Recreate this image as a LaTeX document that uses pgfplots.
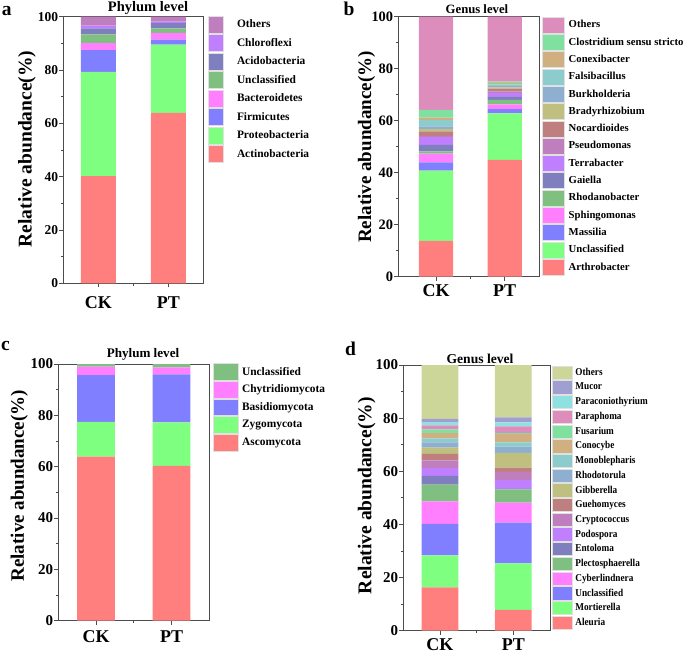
\documentclass[border=0pt]{standalone}
\usepackage{fontspec}
\setmainfont{Liberation Serif}
\newfontfamily\condfont[FakeStretch=0.88]{Liberation Serif}
\usepackage{pgfplots}
\pgfplotsset{compat=1.18}
\definecolor{cRed}{HTML}{FF7F7F}
\definecolor{cGreen}{HTML}{7FFF7F}
\definecolor{cBlue}{HTML}{7F7FFF}
\definecolor{cMag}{HTML}{FF7FFF}
\definecolor{cDGreen}{HTML}{7FBF7F}
\definecolor{cSlate}{HTML}{7F7FBF}
\definecolor{cViolet}{HTML}{BF7FFF}
\definecolor{cMauve}{HTML}{BF7FBF}
\definecolor{cBrick}{HTML}{BF7F7F}
\definecolor{cOlive}{HTML}{BFBF7F}
\definecolor{cSteel}{HTML}{8FAFD0}
\definecolor{cTeal}{HTML}{8CCCCC}
\definecolor{cTan}{HTML}{D0AF80}
\definecolor{cMint}{HTML}{80E09F}
\definecolor{cRose}{HTML}{DD8DBB}
\definecolor{cCyan}{HTML}{8FE0E0}
\definecolor{cLav}{HTML}{A0A0D0}
\definecolor{cKhaki}{HTML}{CCD699}
\pgfplotsset{
  panel/.style={
    scale only axis, ybar stacked, bar width=0.5,
    xmin=0.5, xmax=2.5, ymin=0, ymax=100,
    xtick={1,2}, xticklabels={CK,PT}, minor xtick={1.5},
    ytick={0,20,40,60,80,100}, minor ytick={10,30,50,70,90},
    tick align=outside, xtick pos=bottom, ytick pos=left,
    major tick length=4pt, minor tick length=2.5pt,
    axis line style={black!70, line width=0.8pt},
    every tick/.style={black!70, line width=0.8pt},
    /pgf/number format/assume math mode=true,
    yticklabel style={inner sep=1pt},
    ylabel={Relative abundance(\%)},
    reverse legend, legend cell align=left,
    legend style={draw=none, fill=none, inner sep=0pt, outer sep=0pt,
      at={(axis description cs:1,1)}, anchor=north west, nodes={inner sep=0pt}},
  },
  sw/.style n args={2}{legend image code/.code={\draw[##1, draw=black!12, line width=0.4pt] (0pt,-#2) rectangle (#1,#2);}},
}
\begin{document}
\begin{tikzpicture}
\path[use as bounding box] (0,0) rectangle (685pt,-654pt);
\node[anchor=base west, inner sep=0pt, font=\fontsize{19.5}{20}\selectfont\bfseries] at (1.7pt,-15pt) {a};
\node[anchor=base west, inner sep=0pt, font=\fontsize{19.5}{20}\selectfont\bfseries] at (343.3pt,-15pt) {b};
\node[anchor=base west, inner sep=0pt, font=\fontsize{19.5}{20}\selectfont\bfseries] at (1pt,-350pt) {c};
\node[anchor=base west, inner sep=0pt, font=\fontsize{19.5}{20}\selectfont\bfseries] at (345pt,-355pt) {d};

% ---------- a ----------
\begin{axis}[panel, at={(63.3pt,-283.3pt)}, anchor=south west, width=140pt, height=266.6pt,
  yticklabel style={font=\fontsize{13.5}{14}\selectfont\bfseries},
  xticklabel style={font=\fontsize{18}{18}\selectfont\bfseries, yshift=-6pt},
  every axis y label/.style={at={(axis description cs:-0.259,0.504)}, rotate=90, anchor=center, font=\fontsize{19.5}{20}\selectfont\bfseries},
  title={Phylum level},
  every axis title/.style={at={(axis description cs:0.605,1)}, anchor=base, yshift=5.7pt, font=\fontsize{14.5}{15}\selectfont\bfseries},
  sw={15pt}{8.5pt},
  legend style={xshift=5pt, yshift=1pt, row sep=1.1pt, column sep=13.3pt, font=\fontsize{11.4}{12}\selectfont\bfseries},
]
\addplot[fill=cRed, draw=none] coordinates {(1,40.2) (2,63.9)};
\addplot[fill=cGreen, draw=none] coordinates {(1,39.1) (2,25.6)};
\addplot[fill=cBlue, draw=none] coordinates {(1,8.2) (2,1.9)};
\addplot[fill=cMag, draw=none] coordinates {(1,2.6) (2,2.5)};
\addplot[fill=cDGreen, draw=none] coordinates {(1,3.3) (2,1.7)};
\addplot[fill=cSlate, draw=none] coordinates {(1,2.2) (2,2.0)};
\addplot[fill=cViolet, draw=none] coordinates {(1,1.1) (2,0.6)};
\addplot[fill=cMauve, draw=none] coordinates {(1,3.3) (2,1.8)};
\legend{Actinobacteria,Proteobacteria,Firmicutes,Bacteroidetes,Unclassified,Acidobacteria,Chloroflexi,Others}
\end{axis}

% ---------- b ----------
\begin{axis}[panel, at={(398.3pt,-276.7pt)}, anchor=south west, width=140.7pt, height=260pt, xmin=0.45,
  yticklabel style={font=\fontsize{14.4}{15}\selectfont\bfseries},
  xticklabel style={font=\fontsize{18}{18}\selectfont\bfseries},
  every axis y label/.style={at={(axis description cs:-0.225,0.499)}, rotate=90, anchor=center, font=\fontsize{19}{20}\selectfont\bfseries},
  title={Genus level},
  every axis title/.style={at={(axis description cs:0.559,1)}, anchor=base, yshift=3.4pt, font=\fontsize{12.7}{13}\selectfont\bfseries},
  sw={21.7pt}{8pt},
  legend style={xshift=3.3pt, yshift=0pt, row sep=0.9pt, column sep=4.3pt, font=\fontsize{10.7}{11}\selectfont\bfseries},
]
\addplot[fill=cRed, draw=none] coordinates {(1,13.8) (2,44.9)};
\addplot[fill=cGreen, draw=none] coordinates {(1,27.0) (2,17.9)};
\addplot[fill=cBlue, draw=none] coordinates {(1,3.2) (2,1.7)};
\addplot[fill=cMag, draw=none] coordinates {(1,3.3) (2,1.8)};
\addplot[fill=cDGreen, draw=none] coordinates {(1,0.9) (2,1.7)};
\addplot[fill=cSlate, draw=none] coordinates {(1,2.5) (2,1.2)};
\addplot[fill=cViolet, draw=none] coordinates {(1,3.0) (2,1.4)};
\addplot[fill=cMauve, draw=none] coordinates {(1,0.4) (2,0.6)};
\addplot[fill=cBrick, draw=none] coordinates {(1,1.8) (2,1.1)};
\addplot[fill=cOlive, draw=none] coordinates {(1,0.9) (2,0.5)};
\addplot[fill=cSteel, draw=none] coordinates {(1,1.0) (2,0.5)};
\addplot[fill=cTeal, draw=none] coordinates {(1,2.5) (2,0.7)};
\addplot[fill=cTan, draw=none] coordinates {(1,0.9) (2,0.5)};
\addplot[fill=cMint, draw=none] coordinates {(1,3.0) (2,0.5)};
\addplot[fill=cRose, draw=none] coordinates {(1,35.8) (2,25.0)};
\legend{Arthrobacter,Unclassified,Massilia,Sphingomonas,Rhodanobacter,Gaiella,Terrabacter,Pseudomonas,Nocardioides,Bradyrhizobium,Burkholderia,Falsibacillus,Conexibacter,Clostridium sensu stricto,Others}
\end{axis}

% ---------- c ----------
\begin{axis}[panel, at={(58.3pt,-620.7pt)}, anchor=south west, width=151pt, height=256.7pt,
  yticklabel style={font=\fontsize{15}{15}\selectfont\bfseries},
  xticklabel style={font=\fontsize{18}{18}\selectfont\bfseries, yshift=-2pt},
  every axis y label/.style={at={(axis description cs:-0.258,0.526)}, rotate=90, anchor=center, font=\fontsize{19}{20}\selectfont\bfseries},
  title={Phylum level},
  every axis title/.style={at={(axis description cs:0.561,1)}, anchor=base, yshift=6.5pt, font=\fontsize{13.1}{14}\selectfont\bfseries},
  sw={25pt}{8.25pt},
  legend style={xshift=3.4pt, yshift=0.7pt, row sep=0.8pt, column sep=4pt, font=\fontsize{11.4}{12}\selectfont\bfseries},
]
\addplot[fill=cRed, draw=none] coordinates {(1,63.9) (2,60.3)};
\addplot[fill=cGreen, draw=none] coordinates {(1,13.6) (2,17.0)};
\addplot[fill=cBlue, draw=none] coordinates {(1,18.2) (2,18.7)};
\addplot[fill=cMag, draw=none] coordinates {(1,3.3) (2,2.7)};
\addplot[fill=cDGreen, draw=none] coordinates {(1,1.0) (2,1.3)};
\legend{Ascomycota,Zygomycota,Basidiomycota,Chytridiomycota,Unclassified}
\end{axis}

% ---------- d ----------
\begin{axis}[panel, at={(403.3pt,-630.7pt)}, anchor=south west, width=146.7pt, height=265.7pt,
  yticklabel style={font=\fontsize{15}{15}\selectfont\bfseries},
  xticklabel style={font=\fontsize{18}{18}\selectfont\bfseries},
  every axis y label/.style={at={(axis description cs:-0.25,0.508)}, rotate=90, anchor=center, font=\fontsize{19.5}{20}\selectfont\bfseries},
  title={Genus level},
  every axis title/.style={at={(axis description cs:0.523,1)}, anchor=base, yshift=1.7pt, font=\fontsize{13.6}{14}\selectfont\bfseries},
  sw={20pt}{6.65pt},
  legend style={xshift=2.3pt, yshift=-0.7pt, row sep=1pt, column sep=2.7pt, font=\fontsize{10.5}{11}\condfont\bfseries},
]
\addplot[fill=cRed, draw=none] coordinates {(1,16.3) (2,7.8)};
\addplot[fill=cGreen, draw=none] coordinates {(1,12.1) (2,17.5)};
\addplot[fill=cBlue, draw=none] coordinates {(1,11.8) (2,15.4)};
\addplot[fill=cMag, draw=none] coordinates {(1,8.5) (2,7.5)};
\addplot[fill=cDGreen, draw=none] coordinates {(1,6.3) (2,5.0)};
\addplot[fill=cSlate, draw=none] coordinates {(1,3.3) (2,0.2)};
\addplot[fill=cViolet, draw=none] coordinates {(1,2.9) (2,3.3)};
\addplot[fill=cMauve, draw=none] coordinates {(1,2.9) (2,3.1)};
\addplot[fill=cBrick, draw=none] coordinates {(1,2.5) (2,1.6)};
\addplot[fill=cOlive, draw=none] coordinates {(1,2.3) (2,5.5)};
\addplot[fill=cSteel, draw=none] coordinates {(1,2.0) (2,2.4)};
\addplot[fill=cTeal, draw=none] coordinates {(1,1.5) (2,1.6)};
\addplot[fill=cTan, draw=none] coordinates {(1,2.0) (2,3.1)};
\addplot[fill=cMint, draw=none] coordinates {(1,1.4) (2,0.4)};
\addplot[fill=cRose, draw=none] coordinates {(1,1.5) (2,2.5)};
\addplot[fill=cCyan, draw=none] coordinates {(1,1.2) (2,1.5)};
\addplot[fill=cLav, draw=none] coordinates {(1,1.2) (2,1.9)};
\addplot[fill=cKhaki, draw=none] coordinates {(1,20.3) (2,19.7)};
\legend{Aleuria,Mortierella,Unclassified,Cyberlindnera,Plectosphaerella,Entoloma,Podospora,Cryptococcus,Guehomyces,Gibberella,Rhodotorula,Monoblepharis,Conocybe,Fusarium,Paraphoma,Paraconiothyrium,Mucor,Others}
\end{axis}
\end{tikzpicture}
\end{document}
